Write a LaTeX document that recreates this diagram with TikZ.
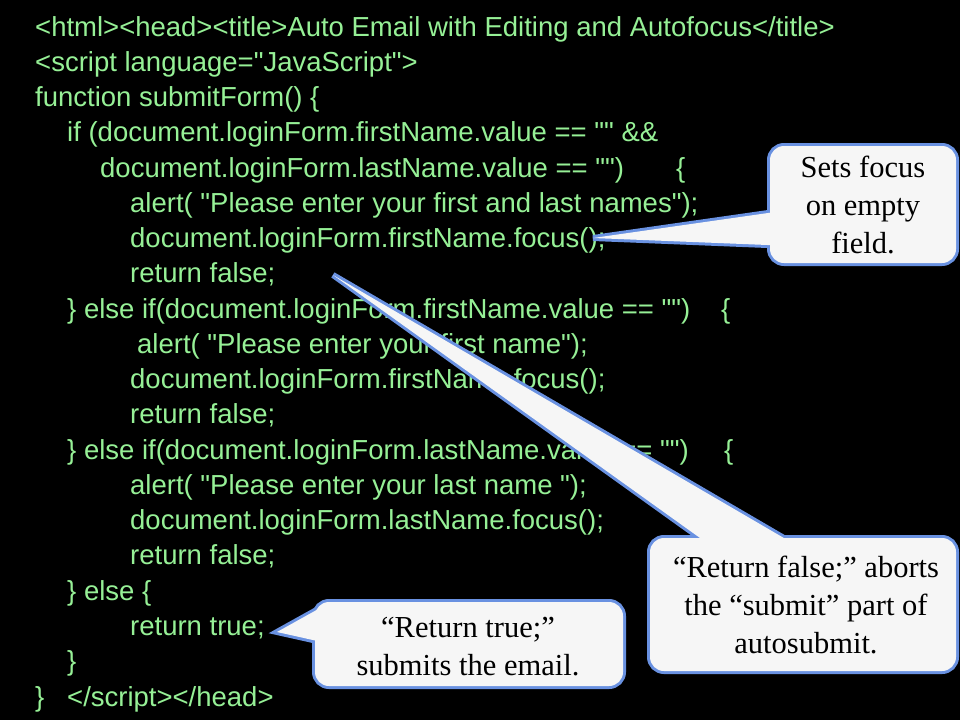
\documentclass[tikz,border=0pt]{standalone}
\usepackage{fontspec}
\setmainfont{Liberation Sans}[Ligatures=TeXOff]
\newfontfamily\calloutfont{Liberation Serif}
\definecolor{codegreen}{RGB}{150,240,150}
\definecolor{cfill}{RGB}{246,246,246}
\definecolor{cborder}{RGB}{105,145,225}
\begin{document}
\begin{tikzpicture}[x=1pt,y=-1pt,
  code/.style={anchor=base west,inner sep=0pt,text=codegreen,font=\fontsize{27.5}{33}\selectfont},
  cborderline/.style={draw=cborder,line width=6pt,fill=cfill},
  cfillonly/.style={fill=cfill},
  ctext/.style={align=center,inner sep=0pt,text=black,font=\calloutfont\fontsize{30.5}{38}\selectfont}]
\fill[black] (0,0) rectangle (960,720);
\useasboundingbox (0,0) rectangle (960,720);
% code lines
\node[code] (l1) at (35,36.0) {<html><head><title>Auto Email with Editing and Autofocus</title>};
\node[code] (l2) at (35,71.3) {<script language="JavaScript">};
\node[code] (l3) at (35,106.5) {function submitForm() \{};
\node[code] (l4) at (67,141.8) {if (document.loginForm.firstName.value == "" \&\&};
\node[code] (l5) at (100,177.0) {document.loginForm.lastName.value == "")};
\node[code] (b5) at (676,177.0) {\{};
\node[code] (l6) at (130,212.3) {alert( "Please enter your first and last names");};
\node[code] (l7) at (130,247.6) {document.loginForm.firstName.focus();};
\node[code] (l8) at (130,282.8) {return false;};
\node[code] (l9) at (67,318.1) {\} else if(document.loginForm.firstName.value == "")};
\node[code] (b9) at (721,318.1) {\{};
\node[code] (l10) at (137,353.3) {alert( "Please enter your first name");};
\node[code] (l11) at (130,388.6) {document.loginForm.firstName.focus();};
\node[code] (l12) at (130,423.9) {return false;};
\node[code] (l13) at (67,459.1) {\} else if(document.loginForm.lastName.value == "")};
\node[code] (b13) at (724,459.1) {\{};
\node[code] (l14) at (130,494.4) {alert( "Please enter your last name ");};
\node[code] (l15) at (130,529.7) {document.loginForm.lastName.focus();};
\node[code] (l16) at (130,564.9) {return false;};
\node[code] (l17) at (67,600.2) {\} else \{};
\node[code] (l18) at (130,635.4) {return true;};
\node[code] (l19) at (67,670.7) {\}};
\node[code] (l20) at (35,706.0) {\}};
\node[code] (l20b) at (67,706.0) {</script></head>};
% callout 1
\coordinate (t1) at (593,238);
\draw[cborderline,rounded corners=14pt] (770,146) rectangle (956,263);
\draw[cborderline] (t1) -- (780,211.3) -- (780,245.5) -- cycle;
\fill[cfillonly,rounded corners=14pt] (770,146) rectangle (956,263);
\fill[cfillonly] (t1) -- (780,211.3) -- (780,245.5) -- cycle;
\node[ctext] (c1) at (863,205) {Sets focus\\on empty\\field.};
% callout 2
\coordinate (t2) at (333,275);
\draw[cborderline,rounded corners=14pt] (650,538) rectangle (956,671);
\draw[cborderline] (t2) -- (714,548) -- (801,548) -- cycle;
\fill[cfillonly,rounded corners=14pt] (650,538) rectangle (956,671);
\fill[cfillonly] (t2) -- (714,548) -- (801,548) -- cycle;
\node[ctext] (c2) at (806,605) {“Return false;” aborts\\the “submit” part of\\autosubmit.};
% callout 3
\coordinate (t3) at (277,632);
\draw[cborderline,rounded corners=14pt] (315,602) rectangle (623,686);
\draw[cborderline] (t3) -- (325,605.3) -- (325,642.7) -- cycle;
\fill[cfillonly,rounded corners=14pt] (315,602) rectangle (623,686);
\fill[cfillonly] (t3) -- (325,605.3) -- (325,642.7) -- cycle;
\node[ctext] (c3) at (468,647) {“Return true;”\\submits the email.};
\end{tikzpicture}
\end{document}
